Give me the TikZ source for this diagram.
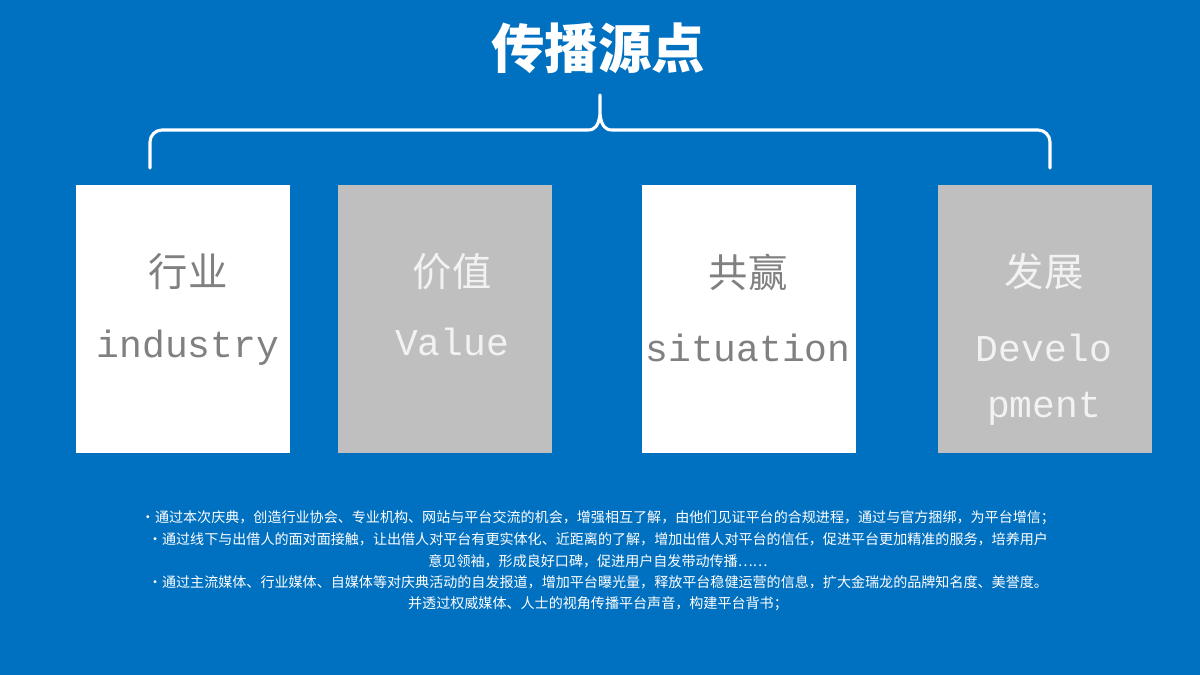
\documentclass[tikz,border=0pt]{standalone}
\usepackage{fontspec}
\setmainfont{Noto Sans CJK SC}
\newfontfamily\cjk{Noto Sans CJK SC}
\newfontfamily\mono{Liberation Mono}
\begin{document}
\begin{tikzpicture}[x=0.025cm,y=-0.025cm,
  card/.style={minimum width=214*0.025cm,minimum height=268*0.025cm,inner sep=0pt,anchor=north west},
  zh/.style={font=\cjk\fontsize{28}{32}\selectfont},
  en/.style={font=\mono\fontsize{27}{40}\selectfont, align=center},
  body/.style={text=white,font=\cjk\fontsize{10}{12}\selectfont}]
\definecolor{bg}{HTML}{0070C0}
\definecolor{gr}{HTML}{BFBFBF}
\definecolor{tx}{HTML}{808080}
\definecolor{lt}{HTML}{F2F2F2}
\fill[bg] (0,0) rectangle (1200,675);
\useasboundingbox (0,0) rectangle (1200,675);
\node[text=white,font=\cjk\bfseries\fontsize{38}{40}\selectfont] (title) at (598,48) {传播源点};
\draw[white,line width=2.2pt,line cap=round,line join=round] (150,168) -- (150,142) to[out=90,in=180] (162,130) -- (588,130) to[out=0,in=-90] (600,95) to[out=-90,in=180] (612,130) -- (1038,130) to[out=0,in=90] (1050,142) -- (1050,168);
\node[card,fill=white] (c1) at (76,185) {};
\node[card,fill=gr] (c2) at (338,185) {};
\node[card,fill=white] (c3) at (642,185) {};
\node[card,fill=gr] (c4) at (938,185) {};
\node[zh,text=tx] (z1) at (188,272) {行业};
\node[en,text=tx] (e1) at (188,348) {industry};
\node[zh,text=lt] (z2) at (452,272) {价值};
\node[en,text=lt] (e2) at (452,342) {Value};
\node[zh,text=tx] (z3) at (748,272) {共赢};
\node[en,text=tx] (e3) at (748,348) {situation};
\node[zh,text=lt] (z4) at (1044,272) {发展};
\node[en,text=lt] (e4) at (1044,380) {Develo\\pment};
\node[body] (b1) at (598,518) {•通过本次庆典，创造行业协会、专业机构、网站与平台交流的机会，增强相互了解，由他们见证平台的合规进程，通过与官方捆绑，为平台增信；};
\node[body] (b2) at (598,539) {•通过线下与出借人的面对面接触，让出借人对平台有更实体化、近距离的了解，增加出借人对平台的信任，促进平台更加精准的服务，培养用户};
\node[body] (b3) at (598,561) {意见领袖，形成良好口碑，促进用户自发带动传播……};
\node[body] (b4) at (598,582) {•通过主流媒体、行业媒体、自媒体等对庆典活动的自发报道，增加平台曝光量，释放平台稳健运营的信息，扩大金瑞龙的品牌知名度、美誉度。};
\node[body] (b5) at (598,604) {并透过权威媒体、人士的视角传播平台声音，构建平台背书；};
\end{tikzpicture}
\end{document}
